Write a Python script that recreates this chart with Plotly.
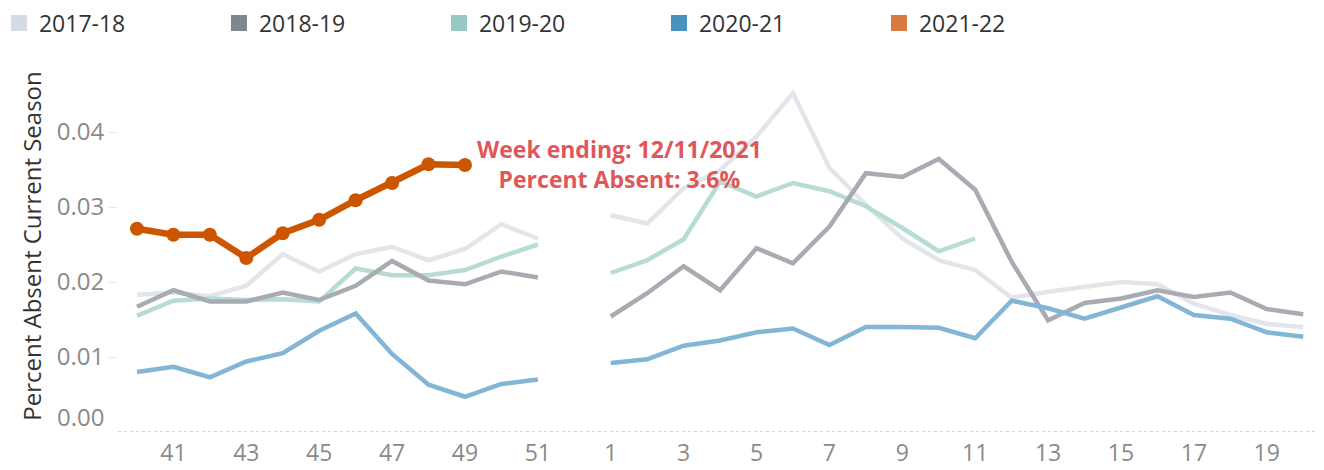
import plotly.graph_objects as go

weeks = ["40","41","42","43","44","45","46","47","48","49","50","51","52",
         "1","2","3","4","5","6","7","8","9","10","11","12","13","14","15","16","17","18","19","20"]
tick_weeks = ["41","43","45","47","49","51","1","3","5","7","9","11","13","15","17","19"]
y_ticks = [0.01, 0.02, 0.03, 0.04]
y_tick_text = ["0.01", "0.02", "0.03", "0.04"]

s2017_18 = [0.0183,0.0186,0.0181,0.0195,0.0237,0.0214,0.0237,0.0247,0.0229,0.0244,0.0277,0.0258,None,
            0.0289,0.0278,0.0325,0.0349,0.0394,0.0452,0.0352,0.0303,0.0258,0.0229,0.0216,
            0.0179,0.0187,0.0193,0.0200,0.0197,0.0171,0.0156,0.0144,0.0140]
s2018_19 = [0.0167,0.0189,0.0174,0.0174,0.0186,0.0176,0.0195,0.0228,0.0202,0.0197,0.0214,0.0206,None,
            0.0154,0.0185,0.0221,0.0189,0.0245,0.0225,0.0274,0.0345,0.0340,0.0364,0.0323,
            0.0227,0.0149,0.0172,0.0178,0.0189,0.0180,0.0186,0.0164,0.0157]
s2019_20 = [0.0155,0.0175,0.0178,0.0176,0.0177,0.0174,0.0218,0.0209,0.0209,0.0216,0.0234,0.0250,None,
            0.0212,0.0229,0.0257,0.0334,0.0314,0.0332,0.0321,0.0301,0.0272,0.0241,0.0258,
            None,None,None,None,None,None,None,None,None]
s2020_21 = [0.0080,0.0087,0.0073,0.0094,0.0105,0.0135,0.0158,0.0104,0.0063,0.0047,0.0064,0.0070,None,
            0.0092,0.0097,0.0115,0.0122,0.0133,0.0138,0.0116,0.0140,0.0140,0.0139,0.0125,
            0.0175,0.0165,0.0151,0.0166,0.0181,0.0156,0.0151,0.0133,0.0127]
s2021_22 = [0.0271,0.0263,0.0263,0.0232,0.0265,0.0283,0.0309,0.0332,0.0357,0.0356]

seasons = ["2017-18","2018-19","2019-20","2020-21","2021-22"]
legend_colors = ["#d5dbe3","#7f8690","#97c8c3","#4a92be","#d67a3e"]
line_colors = {"2017-18":"#e2e5ea","2018-19":"#a8acb2","2019-20":"#b6dcd4","2020-21":"#83b5d7"}
series = {"2017-18":s2017_18,"2018-19":s2018_19,"2019-20":s2019_20,"2020-21":s2020_21}

FONT = "Open Sans"
W, H = 1316, 462  # page body keeps an 8px margin in the browser
fig = go.Figure()

for name in ["2017-18","2019-20","2018-19","2020-21"]:
    fig.add_trace(go.Scatter(x=weeks, y=series[name], mode="lines", name=name,
                             line=dict(color=line_colors[name], width=4.5),
                             connectgaps=False, showlegend=False, hoverinfo="skip"))

fig.add_trace(go.Scatter(x=weeks[:len(s2021_22)], y=s2021_22, mode="lines+markers", name="2021-22",
                         line=dict(color="#cc5500", width=6.5),
                         marker=dict(color="#cc5500", size=14), showlegend=False))

for name, col in zip(seasons, legend_colors):
    fig.add_trace(go.Scatter(x=[None], y=[None], mode="markers", name=name,
                             marker=dict(symbol="square", size=22, color=col), showlegend=True))

last_i = len(s2021_22) - 1
fig.add_annotation(x=last_i, y=s2021_22[last_i], xanchor="left", yanchor="middle",
                   xshift=10, yshift=1, showarrow=False, align="center",
                   text="<b>Week ending: 12/11/2021<br>Percent Absent: 3.6%</b>",
                   font=dict(family=FONT, size=23, color="#e05759"))

# zero label sits slightly above the baseline, as in the original
fig.add_annotation(xref="paper", x=0, y=0, xanchor="right", yanchor="middle",
                   xshift=-12, yshift=16, showarrow=False, text="0.00",
                   font=dict(family=FONT, size=24, color="#8a8a8a"))

fig.add_shape(type="line", xref="paper", x0=0, x1=1, yref="y", y0=0, y1=0,
              line=dict(color="#aaaaaa", width=1.2, dash="dot"))

fig.update_layout(
    width=W, height=H,
    margin=dict(l=110, r=0, t=52, b=38, autoexpand=False),
    paper_bgcolor="white", plot_bgcolor="white",
    font=dict(family=FONT, color="#333333"),
    legend=dict(orientation="h", x=-0.0987, xref="paper", y=1.157, yref="paper",
                yanchor="top", xanchor="left", entrywidth=175,
                font=dict(family=FONT, size=23, color="#333333"),
                itemsizing="trace", tracegroupgap=0),
    xaxis=dict(type="category", categoryorder="array", categoryarray=weeks,
               range=[-0.52, 32.57], tickvals=tick_weeks, ticktext=tick_weeks,
               showgrid=False, zeroline=False, showline=False, ticks="",
               ticklabelstandoff=5,
               tickfont=dict(family=FONT, size=23, color="#8a8a8a")),
    yaxis=dict(range=[0, 0.0496], tickvals=y_ticks, ticktext=y_tick_text,
               showgrid=False, zeroline=False, showline=False,
               ticks="outside", ticklen=8, tickcolor="#e6e6e6",
               tickfont=dict(family=FONT, size=24, color="#8a8a8a"),
               title=dict(text="Percent Absent Current Season", standoff=8,
                          font=dict(family=FONT, size=24, color="#333333"))),
)

fig.write_html("out.html")
